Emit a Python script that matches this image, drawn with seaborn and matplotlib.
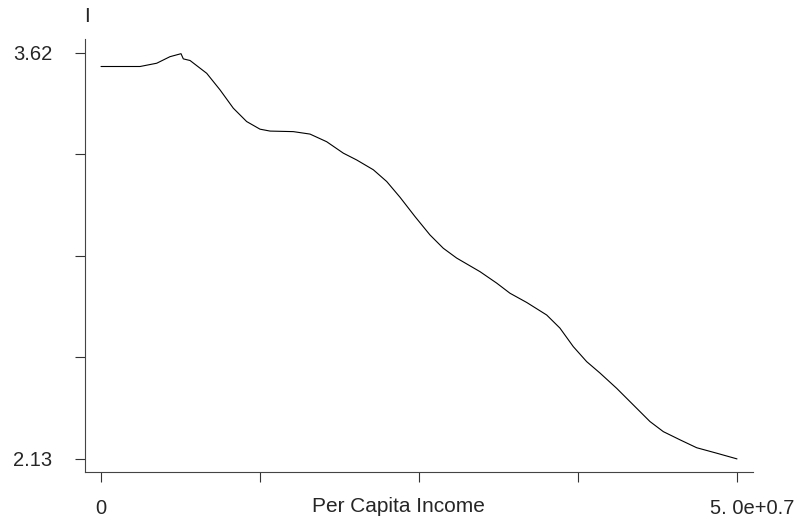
import numpy as np
import pandas as pd
import matplotlib
matplotlib.use("Agg")
import matplotlib.pyplot as plt
import matplotlib.transforms as mtransforms
import seaborn as sns

# per capita income (units of 1e7) and fitted value
income = [0.0, 0.307, 0.438, 0.542, 0.629, 0.647, 0.700, 0.831, 0.936, 1.040,
          1.145, 1.250, 1.329, 1.512, 1.643, 1.774, 1.905, 2.010, 2.141, 2.246,
          2.351, 2.469, 2.586, 2.691, 2.796, 2.980, 3.111, 3.215, 3.347, 3.504,
          3.608, 3.713, 3.818, 3.923, 4.054, 4.185, 4.316, 4.421, 4.552, 4.683,
          4.840, 5.0]
fitted = [3.570, 3.570, 3.582, 3.606, 3.617, 3.598, 3.592, 3.545, 3.484, 3.417,
          3.368, 3.340, 3.333, 3.331, 3.322, 3.294, 3.252, 3.227, 3.191, 3.148,
          3.090, 3.019, 2.952, 2.903, 2.867, 2.817, 2.775, 2.738, 2.704, 2.658,
          2.610, 2.542, 2.487, 2.445, 2.389, 2.328, 2.267, 2.230, 2.200, 2.171,
          2.151, 2.130]

y_ticks = [3.62, 3.2475, 2.875, 2.5025, 2.13]
y_ticklabels = ["3.62", "", "", "", "2.13"]
x_ticks = [0, 1.25, 2.5, 3.75, 5]
x_ticklabels = ["0", "", "", "", "5. 0e+0.7"]

df = pd.DataFrame({"income": np.array(income) * 1e7, "fitted": fitted})

sns.set_style("ticks")
plt.rcParams['font.family'] = ['Liberation Sans', 'DejaVu Sans']

fig = plt.figure(figsize=(8.01, 5.19), dpi=100)
ax = fig.add_axes([0.1061, 0.0906, 0.834, 0.8343])

sns.lineplot(data=df, x="income", y="fitted", ax=ax, color="black", linewidth=0.8)

ax.set_xlim(-0.126e7, 5.126e7)
ax.set_ylim(2.082, 3.671)
ax.set_xticks([t * 1e7 for t in x_ticks])
ax.set_xticklabels(x_ticklabels, fontsize=14.5)
ax.set_yticks(y_ticks)
ax.set_yticklabels(y_ticklabels, fontsize=14.5)
ax.tick_params(axis='x', length=7.2, width=0.8, color='#333333', pad=12)
ax.tick_params(axis='y', length=7.2, width=0.8, color='#333333', pad=16.5)

for s in ['top', 'right']:
    ax.spines[s].set_visible(False)
for s in ['left', 'bottom']:
    ax.spines[s].set_linewidth(0.8)
    ax.spines[s].set_color('#444444')

# last label sits a bit right of its tick
lab = ax.get_xticklabels()[-1]
lab.set_transform(lab.get_transform() +
                  mtransforms.ScaledTranslation(15 / 100, 0, fig.dpi_scale_trans))

ax.set_ylabel("")
ax.set_xlabel("Per Capita Income", fontsize=15)
ax.xaxis.set_label_coords(0.4686, -0.080)
ax.xaxis.label.set_va('center')

fig.text(87 / 801, 1 - 17 / 519, "I", fontsize=15,
         ha='center', va='center')

fig.savefig("out.png", dpi=100)
